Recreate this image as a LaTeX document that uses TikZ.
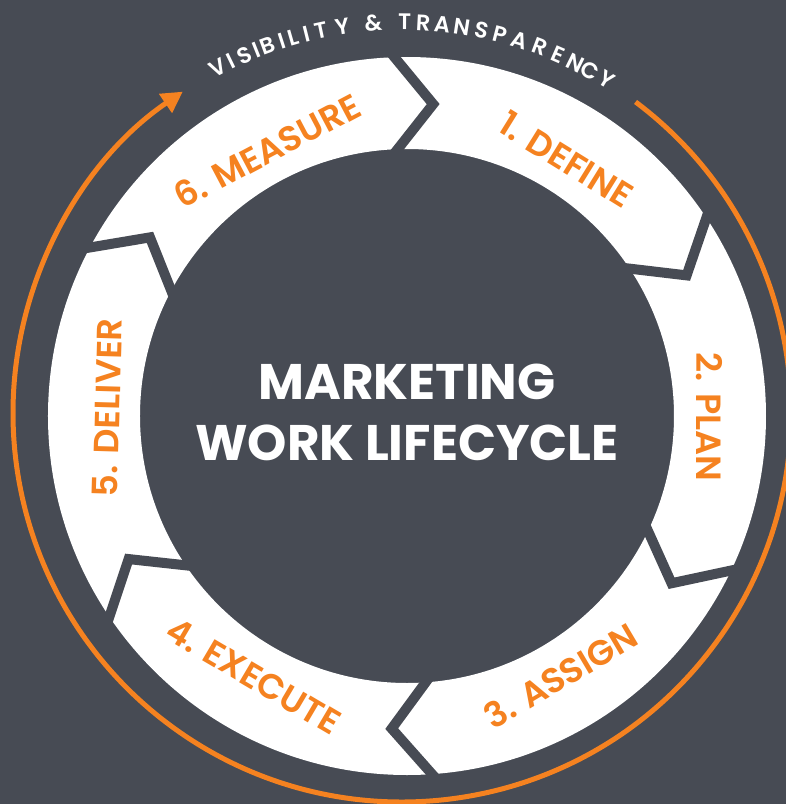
\documentclass[tikz,border=0pt]{standalone}
\usepackage{fontspec}
\setmainfont{Poppins}
\newfontfamily\labfont{Poppins SemiBold}
\usetikzlibrary{arrows.meta,calc}
\definecolor{bgc}{RGB}{71,75,84}
\definecolor{org}{RGB}{245,130,32}
\begin{document}
\begin{tikzpicture}[x=1pt,y=1pt,
  seglabel/.style={text=org,font=\labfont\fontsize{35}{35}\selectfont,inner sep=0pt},
  vislabel/.style={text=white,font=\labfont\fontsize{22.5}{22.5}\selectfont,inner sep=0pt},
  gapline/.style={draw=bgc,line width=10pt,line join=miter,miter limit=20},
  titletext/.style={text=white,font=\bfseries\fontsize{50}{61}\selectfont,align=center,inner sep=0pt},
  orangearc/.style={draw=org,line width=5pt,-{Triangle[length=21pt,width=22pt]}}
]
% origin = ring centre (pixel 407,416)
\fill[bgc] (-407,-388) rectangle (379,416);
\useasboundingbox (-407,-388) rectangle (379,416);
% white ring
\fill[white,even odd rule] (0,0) circle[radius=359] (0,0) circle[radius=267];
% chevron gaps
\foreach \t [count=\k] in {92,33.5,-25.5,-86,-146,152}{
  \coordinate (gO\k) at (\t:359);
  \coordinate (gT\k) at ({\t-6.8}:313);
  \coordinate (gI\k) at (\t:267);
  \draw[gapline] ($(gT\k)!1.2!(gO\k)$) -- (gT\k) -- ($(gT\k)!1.2!(gI\k)$);
}
% segment labels
\node[seglabel,rotate=-31.8] (define)  at (58.2:302)   {1. DEFINE};
\node[seglabel,rotate=-90]   (plan)    at (-0.2:302)   {2. PLAN};
\node[seglabel,rotate=30.6]  (assign)  at (-59.4:302)  {3. ASSIGN};
\node[seglabel,rotate=-30.5] (execute) at (-120.5:302) {4. EXECUTE};
\node[seglabel,rotate=88.4]  (deliver) at (178.4:300)  {5. DELIVER};
\node[seglabel,rotate=27.8]  (measure) at (117.8:300)  {6. MEASURE};
% title
\node[titletext] (title) at (0,3.5) {MARKETING\\WORK LIFECYCLE};
% orange arc with arrow
\coordinate (oc) at (-5,3);
\draw[orangearc] ($(oc)+(53.1:389)$) arc[start angle=53.1,end angle=-235.7,radius=389];
% curved caption
\foreach \ch/\a [count=\i] in {V/118.1,I/115.9,S/113.8,I/111.8,B/110.1,I/107.9,L/106.2,I/104.1,T/101.9,Y/98.8,\&/94.2,T/89.6,R/86.9,A/84.1,N/81.2,S/78.2,P/75.5,A/72.5,R/69.4,E/66.4,N/63.6,C/61.2,Y/58.5}{
  \node[vislabel,rotate={\a-90}] (vis\i) at ($(oc)+(\a:391)$) {\ch};
}
\end{tikzpicture}
\end{document}
